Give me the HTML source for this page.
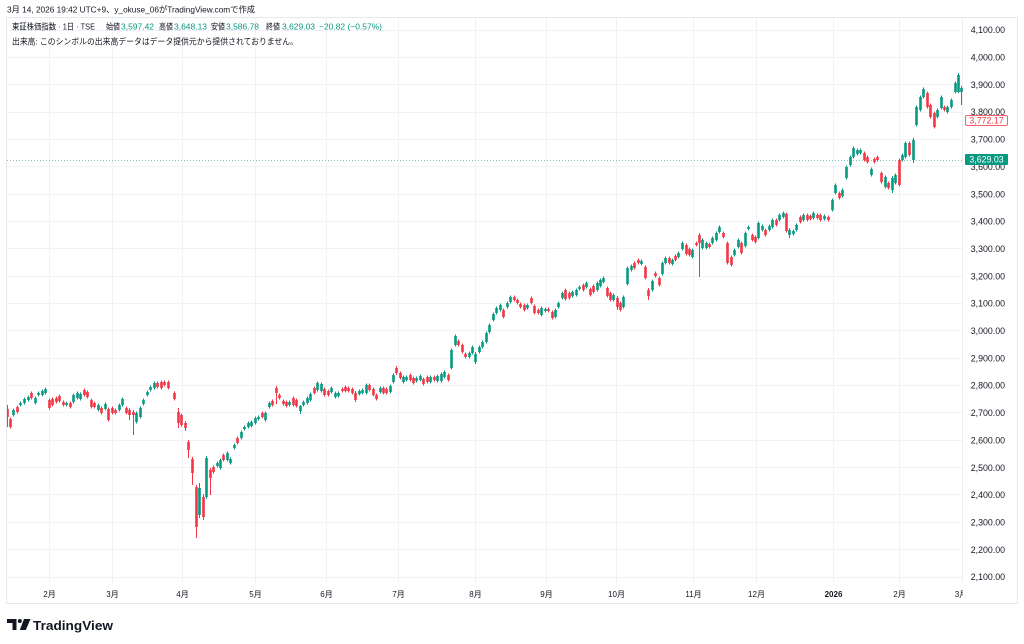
<!DOCTYPE html>
<html><head><meta charset="utf-8">
<style>
html,body{margin:0;padding:0;background:#fff;}
body{width:1024px;height:644px;overflow:hidden;}
svg{display:block;}
text{font-family:"Liberation Sans","Noto Sans CJK JP",sans-serif;}
</style></head>
<body>
<svg width="1024" height="644" viewBox="0 0 1024 644" xmlns="http://www.w3.org/2000/svg">
<defs><clipPath id="pc"><rect x="7" y="18" width="956" height="565"/></clipPath>
<clipPath id="tc"><rect x="7" y="584" width="956" height="19"/></clipPath></defs>
<rect width="1024" height="644" fill="#fff"/>
<text x="7" y="12.5" font-size="8.3" fill="#131722" textLength="248" lengthAdjust="spacingAndGlyphs">3月 14, 2026 19:42 UTC+9、y_okuse_06がTradingView.comで作成</text>
<rect x="6.5" y="17.5" width="1011" height="586" fill="none" stroke="#e6e8ee"/>
<g stroke="#f0f2f5" stroke-width="1">
<line x1="49.5" y1="18" x2="49.5" y2="583"/><line x1="112.5" y1="18" x2="112.5" y2="583"/><line x1="182.5" y1="18" x2="182.5" y2="583"/><line x1="255.5" y1="18" x2="255.5" y2="583"/><line x1="326.5" y1="18" x2="326.5" y2="583"/><line x1="398.5" y1="18" x2="398.5" y2="583"/><line x1="475.5" y1="18" x2="475.5" y2="583"/><line x1="546.5" y1="18" x2="546.5" y2="583"/><line x1="616.5" y1="18" x2="616.5" y2="583"/><line x1="693.5" y1="18" x2="693.5" y2="583"/><line x1="756.5" y1="18" x2="756.5" y2="583"/><line x1="833.5" y1="18" x2="833.5" y2="583"/><line x1="899.5" y1="18" x2="899.5" y2="583"/>
<line x1="7" y1="30.5" x2="962" y2="30.5"/><line x1="7" y1="57.5" x2="962" y2="57.5"/><line x1="7" y1="84.5" x2="962" y2="84.5"/><line x1="7" y1="112.5" x2="962" y2="112.5"/><line x1="7" y1="139.5" x2="962" y2="139.5"/><line x1="7" y1="166.5" x2="962" y2="166.5"/><line x1="7" y1="194.5" x2="962" y2="194.5"/><line x1="7" y1="221.5" x2="962" y2="221.5"/><line x1="7" y1="248.5" x2="962" y2="248.5"/><line x1="7" y1="276.5" x2="962" y2="276.5"/><line x1="7" y1="303.5" x2="962" y2="303.5"/><line x1="7" y1="330.5" x2="962" y2="330.5"/><line x1="7" y1="358.5" x2="962" y2="358.5"/><line x1="7" y1="385.5" x2="962" y2="385.5"/><line x1="7" y1="412.5" x2="962" y2="412.5"/><line x1="7" y1="440.5" x2="962" y2="440.5"/><line x1="7" y1="467.5" x2="962" y2="467.5"/><line x1="7" y1="494.5" x2="962" y2="494.5"/><line x1="7" y1="522.5" x2="962" y2="522.5"/><line x1="7" y1="549.5" x2="962" y2="549.5"/><line x1="7" y1="577.5" x2="962" y2="577.5"/>
</g>
<line x1="962.5" y1="18" x2="962.5" y2="583" stroke="#eceef2"/>
<line x1="7" y1="160.5" x2="962" y2="160.5" stroke="#089981" stroke-opacity="0.55" stroke-dasharray="1,2"/>
<g id="cd" clip-path="url(#pc)"></g>
<g font-size="8.3" fill="#131722">
<text x="12" y="29.5" textLength="83" lengthAdjust="spacingAndGlyphs">東証株価指数 · 1日 · TSE</text>
<text x="106" y="29.5" textLength="14" lengthAdjust="spacingAndGlyphs">始値</text><text x="121" y="29.5" fill="#089981" textLength="33" lengthAdjust="spacingAndGlyphs">3,597.42</text>
<text x="159" y="29.5" textLength="14" lengthAdjust="spacingAndGlyphs">高値</text><text x="174" y="29.5" fill="#089981" textLength="33" lengthAdjust="spacingAndGlyphs">3,648.13</text>
<text x="211" y="29.5" textLength="14" lengthAdjust="spacingAndGlyphs">安値</text><text x="226" y="29.5" fill="#089981" textLength="33" lengthAdjust="spacingAndGlyphs">3,586.78</text>
<text x="266" y="29.5" textLength="14" lengthAdjust="spacingAndGlyphs">終値</text><text x="282" y="29.5" fill="#089981" textLength="33" lengthAdjust="spacingAndGlyphs">3,629.03</text>
<text x="319" y="29.5" fill="#089981" textLength="63" lengthAdjust="spacingAndGlyphs">−20.82 (−0.57%)</text>
<text x="12" y="44.5" textLength="286" lengthAdjust="spacingAndGlyphs">出来高: このシンボルの出来高データはデータ提供元から提供されておりません。</text>
</g>
<g font-size="8.8" fill="#131722" text-anchor="end">
<text x="1005" y="33.2">4,100.00</text><text x="1005" y="60.5">4,000.00</text><text x="1005" y="87.9">3,900.00</text><text x="1005" y="115.2">3,800.00</text><text x="1005" y="142.6">3,700.00</text><text x="1005" y="170">3,600.00</text><text x="1005" y="197.3">3,500.00</text><text x="1005" y="224.6">3,400.00</text><text x="1005" y="252">3,300.00</text><text x="1005" y="279.3">3,200.00</text><text x="1005" y="306.7">3,100.00</text><text x="1005" y="334">3,000.00</text><text x="1005" y="361.4">2,900.00</text><text x="1005" y="388.7">2,800.00</text><text x="1005" y="416.1">2,700.00</text><text x="1005" y="443.4">2,600.00</text><text x="1005" y="470.8">2,500.00</text><text x="1005" y="498.1">2,400.00</text><text x="1005" y="525.5">2,300.00</text><text x="1005" y="552.8">2,200.00</text><text x="1005" y="580.2">2,100.00</text>
</g>
<rect x="965.5" y="115.5" width="42" height="10" rx="1.5" fill="#fff" stroke="#f23645" stroke-opacity="0.8"/>
<text x="986.5" y="123.7" font-size="8.8" fill="#f23645" text-anchor="middle">3,772.17</text>
<rect x="965" y="154" width="43" height="11" rx="1" fill="#089981"/>
<text x="986.5" y="162.7" font-size="8.8" fill="#fff" text-anchor="middle">3,629.03</text>
<g font-size="8" fill="#131722" text-anchor="middle" clip-path="url(#tc)">
<text x="49.5" y="597">2月</text><text x="112.5" y="597">3月</text><text x="182.5" y="597">4月</text><text x="255.5" y="597">5月</text><text x="326.5" y="597">6月</text><text x="398.5" y="597">7月</text><text x="475.5" y="597">8月</text><text x="546.5" y="597">9月</text><text x="616.5" y="597">10月</text><text x="693.5" y="597">11月</text><text x="756.5" y="597">12月</text><text x="833.5" y="597" font-weight="bold">2026</text><text x="899.5" y="597">2月</text><text x="961" y="597">3月</text>
</g>
<g fill="#131722">
<rect x="7" y="619" width="9.5" height="4"/>
<rect x="12.5" y="619" width="4" height="11"/>
<circle cx="19.8" cy="621" r="2"/>
<polygon points="24,619 30.5,619 25.8,630 19.8,630"/>
<text x="33" y="630" font-size="13" font-weight="bold" textLength="80" lengthAdjust="spacingAndGlyphs">TradingView</text>
</g>
</svg>
<script>
(function(){
var s="7,409,417,r,405,427;10,419,427,r;13,410,415,g;17,407,412,r;20,403,405,g;24,399,403,g;28,397,400,g;31,393,398,r;35,398,403,g;38,393,395,g;42,391,395,g;45,389,393,g;49,400,408,r;52,399,405,r;56,398,402,r;59,396,401,r;63,402,405,r;66,403,405,g;70,403,407,r;73,395,402,g;77,393,398,g;80,394,399,g;84,390,395,r;87,392,397,r;91,400,407,r;94,403,407,r;98,405,410,g;101,408,413,r;105,404,409,g;108,409,420,r;112,408,413,r;115,410,413,r;119,405,410,g;122,399,405,g;126,408,413,r;129,410,415,r,408,420;133,412,415,r,410,435;136,413,422,g;140,408,417,g;143,400,404,g;147,392,395,g;150,387,390,g;154,383,388,g;157,383,387,r;161,382,388,r;164,382,385,r;168,382,388,r;174,393,399,r;178,412,423,r,408,428;181,415,425,r;185,423,428,r,421,431;188,442,450,r,440,458;192,459,473,r,457,485;196,487,527,r,485,538;199,488,515,g,483,518;203,497,517,r,494,520;206,458,497,g,456,499;210,470,478,r,468,495;213,467,472,r;217,463,466,g;220,460,468,g;223,455,460,r;227,453,460,g;230,459,463,g;234,445,448,g;237,438,443,r;241,432,438,g;244,427,429,g;248,423,427,g;251,422,426,g;255,418,423,g;258,417,419,g;262,413,417,r;265,413,420,g;269,403,407,g;272,401,405,r;276,388,393,r,386,404;279,395,398,r;283,401,404,r;286,402,406,r;289,402,405,g;293,398,405,r;296,400,406,r;300,406,411,g,405,414;303,402,405,g;307,398,403,g;310,394,400,g;314,388,393,r;317,383,390,g;321,384,391,g;324,389,395,r;328,391,395,r;331,388,392,g;335,393,397,g;338,393,396,g;342,389,391,r;345,387,391,r;348,388,391,r;352,389,393,r;355,393,400,r,391,402;359,391,394,g;362,390,393,g;366,385,393,g;369,385,390,r;373,389,395,r;376,395,399,r;380,388,392,g;383,388,393,r;386,389,393,r;390,386,392,g;393,375,382,g;396,368,373,r,366,375;400,373,378,r;403,377,382,g;406,377,380,g;410,375,380,r;413,378,383,r;416,378,381,g;420,376,380,g;423,379,384,r;427,377,382,r;430,377,382,g;434,377,380,r;437,376,381,g;441,374,381,g;444,372,377,g;448,375,380,r;451,350,368,g;455,336,345,g;458,341,345,r;462,345,352,r;465,354,357,r;469,353,357,g;472,347,353,g;475,354,362,g,352,364;479,347,352,g;482,342,347,g;486,333,342,g;489,325,332,g;493,314,320,g;496,308,313,g;500,305,310,g;503,310,317,r;507,303,307,g;510,297,302,g;514,297,300,r;517,300,303,r;520,304,307,r;524,305,310,r;527,305,308,g;531,298,303,r;534,306,313,r;538,310,313,r;541,308,315,g;545,309,311,g;548,309,311,r;552,312,318,r;555,310,317,g;558,303,307,g;562,293,298,g;565,290,299,r;569,293,298,r;572,292,296,g;576,290,295,g;579,287,289,g;583,285,290,r;586,283,287,g;590,289,295,r;593,286,292,r;597,283,290,g;600,280,286,g;603,278,282,g;607,288,296,r;610,293,300,r;613,295,300,g;617,298,307,r,296,310;620,303,310,r;623,297,307,g;627,268,284,g;631,266,270,g;634,263,268,r;638,260,263,r;641,261,264,g;645,267,278,r;648,290,296,r,288,300;652,281,290,g;655,273,276,r;659,278,285,r;662,263,274,g;665,258,263,g;669,258,263,r;672,260,264,g;675,256,260,r;678,253,257,g;682,243,249,g;686,245,254,r;689,249,255,r;692,250,257,g;696,243,245,r;699,235,243,r,233,277;702,240,248,g;706,243,248,g;709,244,247,r;712,238,243,g;716,233,240,g;719,227,232,g;723,233,237,r;727,243,263,r;731,257,265,r;734,250,255,g;738,240,247,g;741,243,253,r;745,233,246,g;748,227,229,g;752,235,240,r;755,237,242,r;758,223,238,g;762,226,230,g;765,230,235,r;769,226,230,g;772,220,227,g;776,220,225,r;779,215,220,g;783,213,217,g;786,214,231,r;789,230,235,g,228,238;793,231,234,g;796,225,230,g;800,217,222,r;803,215,220,g;807,215,220,r;810,216,219,r;813,213,218,g;817,215,218,r;820,215,220,r;824,216,219,g;828,217,220,r;832,200,210,g;835,185,193,g;839,193,198,r;842,190,196,g;846,167,178,g;850,157,165,g;853,148,157,g;857,150,154,g;860,150,153,g;864,153,160,r;867,157,162,r;871,169,175,g;874,159,162,r;877,157,160,r;881,173,182,r;885,177,187,g;888,183,188,r;892,178,190,g,176,193;895,175,183,g;899,160,185,r;902,155,160,g;905,143,157,g;909,143,155,r;913,140,160,g,138,163;916,107,125,g;920,97,110,g;923,89,97,g;927,93,107,r;930,105,117,r;934,113,127,r;937,110,117,g;941,97,108,g;944,107,110,r;947,107,112,g;951,100,107,g;955,83,92,g;958,75,92,g,73,93;961,88,92,g,86,105";
var g=document.getElementById('cd'),h='';
s.split(';').forEach(function(e){
var a=e.split(',');var x=+a[0]+0.5,t=+a[1],b=+a[2];
var c=a[3]=='g'?'#089981':'#f23645';
var wt=a[4]?+a[4]:t-1.5,wb=a[5]?+a[5]:b+1.5;
h+='<line x1="'+x+'" x2="'+x+'" y1="'+wt+'" y2="'+wb+'" stroke="'+c+'" stroke-width="1"/>';
h+='<rect x="'+(x-1.3)+'" y="'+t+'" width="2.6" height="'+Math.max(b-t,1)+'" fill="'+c+'"/>';
});
g.innerHTML=h;
})();
</script>
</body></html>
